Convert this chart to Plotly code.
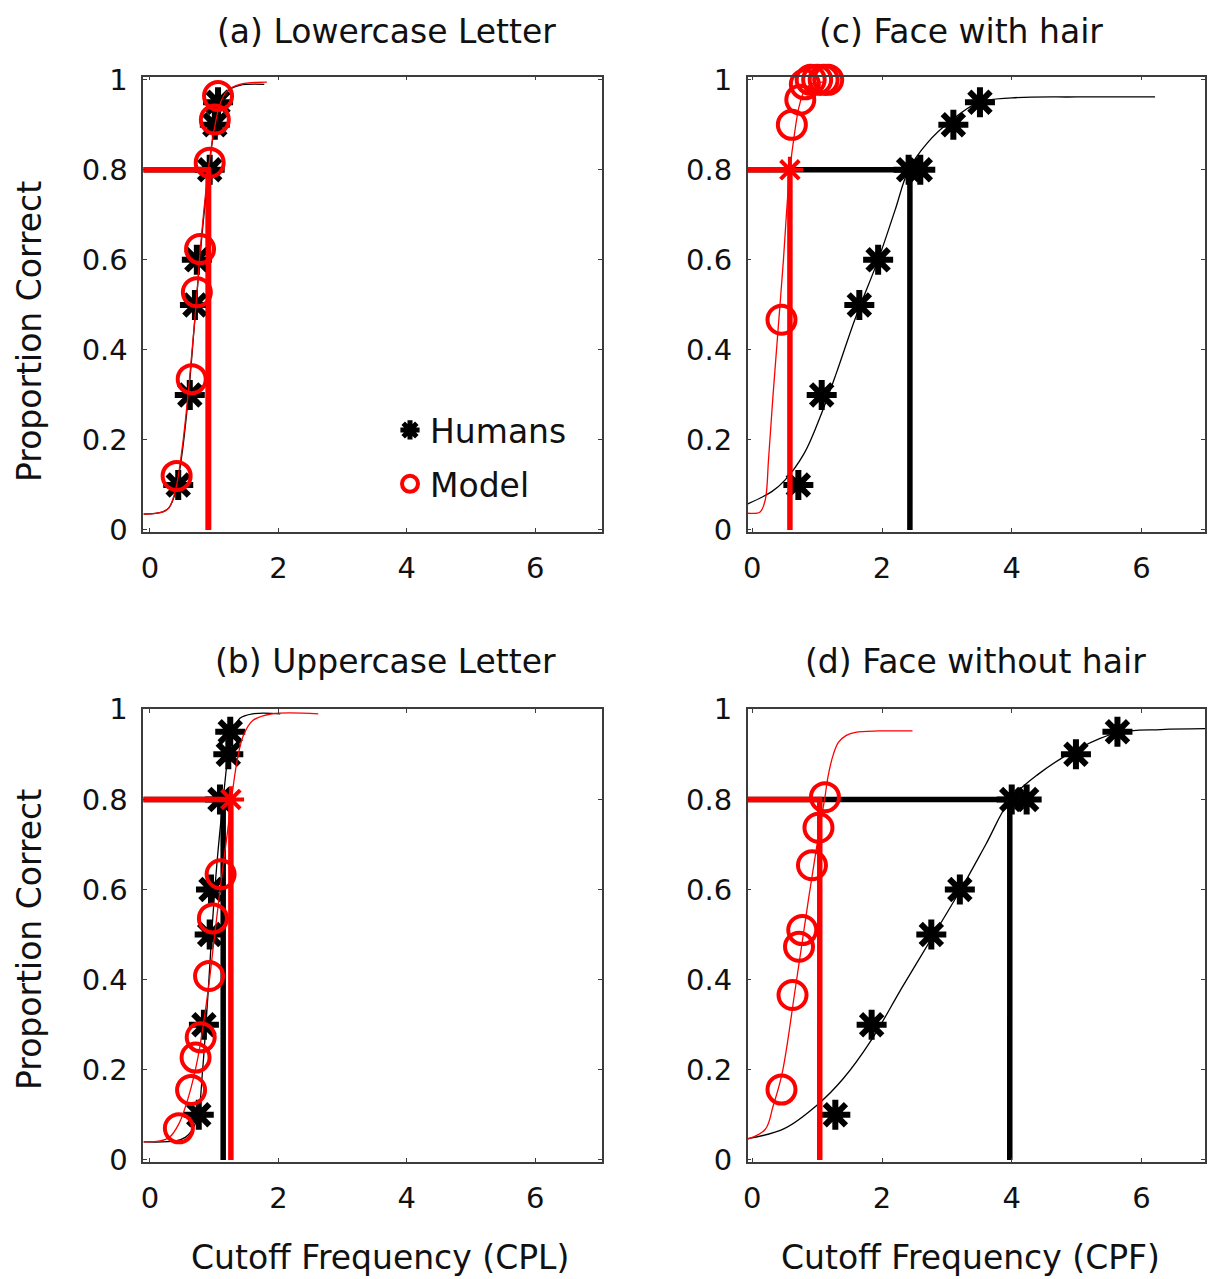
import plotly.graph_objects as go

# ---------------- data ----------------
# (a) Lowercase Letter
a_hum_x = [0.44, 0.62, 0.70, 0.73, 0.93, 1.01, 1.06]
a_hum_y = [0.10, 0.30, 0.50, 0.60, 0.80, 0.90, 0.95]
a_mod_x = [0.415, 0.65, 0.73, 0.78, 0.93, 1.01, 1.06]
a_mod_y = [0.12, 0.335, 0.528, 0.624, 0.816, 0.912, 0.964]
a_hfit_x = [-0.1, 0.2, 0.3, 0.4, 0.5, 0.6, 0.7, 0.8, 0.9, 1.0, 1.1, 1.2, 1.4, 1.78]
a_hfit_y = [0.035, 0.04, 0.05, 0.085, 0.17, 0.30, 0.47, 0.64, 0.78, 0.89, 0.95, 0.975, 0.988, 0.99]
a_mfit_x = [-0.1, 0.2, 0.3, 0.4, 0.5, 0.6, 0.7, 0.8, 0.9, 1.0, 1.1, 1.2, 1.4, 1.82]
a_mfit_y = [0.035, 0.04, 0.05, 0.09, 0.18, 0.31, 0.47, 0.65, 0.79, 0.89, 0.95, 0.975, 0.99, 0.995]

# (b) Uppercase Letter
b_hum_x = [0.76, 0.84, 0.93, 0.95, 1.09, 1.22, 1.25]
b_hum_y = [0.10, 0.30, 0.50, 0.60, 0.80, 0.90, 0.95]
b_mod_x = [0.45, 0.64, 0.71, 0.79, 0.92, 0.98, 1.10]
b_mod_y = [0.07, 0.155, 0.227, 0.272, 0.408, 0.536, 0.634]
b_hfit_x = [-0.1, 0.4, 0.55, 0.65, 0.75, 0.82, 0.9, 0.97, 1.05, 1.14, 1.22, 1.3, 1.4, 1.6, 2.03]
b_hfit_y = [0.04, 0.042, 0.05, 0.065, 0.10, 0.20, 0.36, 0.52, 0.67, 0.80, 0.90, 0.95, 0.98, 0.99, 0.99]
b_mfit_x = [-0.1, 0.15, 0.3, 0.45, 0.6, 0.75, 0.9, 1.0, 1.1, 1.2, 1.27, 1.35, 1.45, 1.6, 1.9, 2.62]
b_mfit_y = [0.04, 0.042, 0.05, 0.08, 0.14, 0.23, 0.37, 0.49, 0.61, 0.72, 0.80, 0.88, 0.94, 0.975, 0.99, 0.99]

# (c) Face with hair
c_hum_x = [0.71, 1.07, 1.65, 1.94, 2.41, 2.59, 3.10, 3.51]
c_hum_y = [0.10, 0.30, 0.50, 0.60, 0.80, 0.80, 0.90, 0.95]
c_mod_x = [0.45, 0.61, 0.74, 0.81, 0.90, 1.00, 1.10, 1.17]
c_mod_y = [0.467, 0.90, 0.956, 0.99, 1.0, 1.0, 1.0, 1.0]
c_hfit_x = [-0.07, 0.3, 0.5, 0.8, 1.07, 1.3, 1.58, 1.94, 2.2, 2.41, 2.7, 3.07, 3.49, 4.0, 5.0, 6.21]
c_hfit_y = [0.058, 0.085, 0.11, 0.17, 0.26, 0.35, 0.467, 0.60, 0.71, 0.80, 0.86, 0.91, 0.95, 0.96, 0.962, 0.962]
c_mfit_x = [-0.07, 0.12, 0.2, 0.25, 0.32, 0.4, 0.48, 0.53, 0.58, 0.65, 0.72, 0.8, 0.9, 1.1]
c_mfit_y = [0.037, 0.04, 0.067, 0.156, 0.30, 0.45, 0.60, 0.71, 0.80, 0.88, 0.94, 0.975, 0.99, 0.995]

# (d) Face without hair
d_hum_x = [1.28, 1.84, 2.76, 3.20, 4.00, 4.23, 4.99, 5.63]
d_hum_y = [0.10, 0.30, 0.50, 0.60, 0.80, 0.80, 0.90, 0.95]
d_mod_x = [0.45, 0.62, 0.72, 0.77, 0.92, 1.02, 1.12]
d_mod_y = [0.156, 0.366, 0.473, 0.51, 0.654, 0.737, 0.805]
d_hfit_x = [-0.07, 0.5, 1.01, 1.4, 1.84, 2.31, 2.77, 3.23, 3.6, 3.98, 4.4, 5.02, 5.63, 6.3, 6.98]
d_hfit_y = [0.047, 0.07, 0.123, 0.18, 0.267, 0.383, 0.493, 0.604, 0.70, 0.80, 0.855, 0.912, 0.948, 0.955, 0.957]
d_mfit_x = [-0.07, 0.2, 0.32, 0.46, 0.66, 0.87, 1.02, 1.12, 1.17, 1.25, 1.33, 1.45, 1.59, 1.95, 2.47]
d_mfit_y = [0.046, 0.068, 0.119, 0.192, 0.377, 0.582, 0.72, 0.805, 0.853, 0.90, 0.927, 0.942, 0.949, 0.952, 0.952]

# 80% thresholds (humans, model)
thr_humans = [0.91, 1.14, 2.43, 3.97]
thr_model = [0.91, 1.26, 0.58, 1.04]
thr_level = 0.8
show_model_star = [False, True, True, False]

titles = ["(a) Lowercase Letter", "(b) Uppercase Letter", "(c) Face with hair", "(d) Face without hair"]
x_titles = ["Cutoff Frequency (CPL)", "Cutoff Frequency (CPF)"]
y_title = "Proportion Correct"
x_ticks = [0, 2, 4, 6]
y_ticks = [0, 0.2, 0.4, 0.6, 0.8, 1]
y_ticklabels = ["0", "0.2", "0.4", "0.6", "0.8", "1"]

panels = [
    (a_hum_x, a_hum_y, a_mod_x, a_mod_y, a_hfit_x, a_hfit_y, a_mfit_x, a_mfit_y),
    (b_hum_x, b_hum_y, b_mod_x, b_mod_y, b_hfit_x, b_hfit_y, b_mfit_x, b_mfit_y),
    (c_hum_x, c_hum_y, c_mod_x, c_mod_y, c_hfit_x, c_hfit_y, c_mfit_x, c_mfit_y),
    (d_hum_x, d_hum_y, d_mod_x, d_mod_y, d_hfit_x, d_hfit_y, d_mfit_x, d_mfit_y),
]

# ---------------- layout geometry ----------------
W, H = 1208, 1279
FONT = "DejaVu Sans"
FS_TXT = 33
FS_TICK = 29
TXT = "#111111"
RED = "#ff0000"
BLACK = "#000000"

# plot-area boxes in pixels: left, right, top, bottom
boxes = [
    (143.3, 601.7, 76.7, 531.7),
    (143.3, 601.7, 709.3, 1161.7),
    (747.7, 1205.0, 76.7, 531.7),
    (747.7, 1205.0, 709.3, 1161.7),
]
xranges = [[-0.104, 7.035], [-0.104, 7.035], [-0.071, 6.98], [-0.071, 6.98]]
yranges = [[-0.004, 1.007], [-0.004, 1.0], [-0.004, 1.007], [-0.004, 1.0]]

fig = go.Figure()

for i, (hx, hy, mx, my, hfx, hfy, mfx, mfy) in enumerate(panels):
    xa = "x" if i == 0 else f"x{i+1}"
    ya = "y" if i == 0 else f"y{i+1}"
    x0 = xranges[i][0]
    # human psychometric fit
    fig.add_trace(go.Scatter(x=hfx, y=hfy, mode="lines", line=dict(color=BLACK, width=1.3, shape="spline"),
                             xaxis=xa, yaxis=ya, showlegend=False, hoverinfo="skip"))
    # human 80% threshold
    fig.add_trace(go.Scatter(x=[x0, thr_humans[i], thr_humans[i]], y=[thr_level, thr_level, 0],
                             mode="lines", line=dict(color=BLACK, width=5.5),
                             xaxis=xa, yaxis=ya, showlegend=False, hoverinfo="skip"))
    # human data
    fig.add_trace(go.Scatter(x=hx, y=hy, mode="markers", name="Humans", legendgroup="h",
                             marker=dict(symbol="asterisk-open", size=25, color=BLACK, line=dict(color=BLACK, width=6)),
                             xaxis=xa, yaxis=ya, showlegend=(i == 0), cliponaxis=False))
    # model psychometric fit
    fig.add_trace(go.Scatter(x=mfx, y=mfy, mode="lines", line=dict(color=RED, width=1.3, shape="spline"),
                             xaxis=xa, yaxis=ya, showlegend=False, hoverinfo="skip"))
    # model 80% threshold
    fig.add_trace(go.Scatter(x=[x0, thr_model[i], thr_model[i]], y=[thr_level, thr_level, 0],
                             mode="lines", line=dict(color=RED, width=5.5),
                             xaxis=xa, yaxis=ya, showlegend=False, hoverinfo="skip"))
    # model data
    fig.add_trace(go.Scatter(x=mx, y=my, mode="markers", name="Model", legendgroup="m",
                             marker=dict(symbol="circle-open", size=28, color=RED, line=dict(color=RED, width=4)),
                             xaxis=xa, yaxis=ya, showlegend=(i == 0), cliponaxis=False))
    if show_model_star[i]:
        fig.add_trace(go.Scatter(x=[thr_model[i]], y=[thr_level], mode="markers",
                                 marker=dict(symbol="asterisk-open", size=22, color=RED, line=dict(color=RED, width=4)),
                                 xaxis=xa, yaxis=ya, showlegend=False, cliponaxis=False))

axis_common = dict(
    automargin=False,
    showgrid=False, zeroline=False, showline=True, linecolor="#3c3c3c", linewidth=1.5,
    mirror="ticks", ticks="inside", ticklen=4, tickcolor="#3c3c3c", tickwidth=1.2,
    tickfont=dict(family=FONT, size=FS_TICK, color=TXT),
)

layout = dict(
    template="none",
    width=W, height=H, margin=dict(l=0, r=0, t=0, b=0, autoexpand=False),
    paper_bgcolor="white", plot_bgcolor="white",
    font=dict(family=FONT, size=FS_TXT, color=TXT),
    showlegend=True,
    legend=dict(x=390 / W, y=1 - 402 / H, xanchor="left", yanchor="top",
                bgcolor="rgba(0,0,0,0)", borderwidth=0, font=dict(family=FONT, size=FS_TXT, color=TXT),
                itemsizing="trace", tracegroupgap=8),
)

for i, (l, r, t, b) in enumerate(boxes):
    xk = "xaxis" if i == 0 else f"xaxis{i+1}"
    yk = "yaxis" if i == 0 else f"yaxis{i+1}"
    layout[xk] = dict(axis_common, domain=[l / W, r / W], range=xranges[i], anchor=("y" if i == 0 else f"y{i+1}"),
                      tickvals=x_ticks, ticktext=[str(v) for v in x_ticks], ticklabelstandoff=10)
    layout[yk] = dict(axis_common, domain=[1 - b / H, 1 - t / H], range=yranges[i], anchor=("x" if i == 0 else f"x{i+1}"),
                      tickvals=y_ticks, ticktext=y_ticklabels, ticklabelstandoff=8)

fig.update_layout(**layout)

annotations = []
title_pos = [(386, 31), (385, 661), (961, 31), (975, 661)]
for txt, (px, py) in zip(titles, title_pos):
    annotations.append(dict(text=txt, x=px / W, y=1 - py / H, xref="paper", yref="paper",
                            xanchor="center", yanchor="middle", showarrow=False,
                            font=dict(family=FONT, size=FS_TXT, color=TXT)))
for py in (332, 940):
    annotations.append(dict(text=y_title, x=29 / W, y=1 - py / H, xref="paper", yref="paper",
                            xanchor="center", yanchor="middle", showarrow=False, textangle=-90,
                            font=dict(family=FONT, size=FS_TXT, color=TXT)))
for txt, px in zip(x_titles, (380, 970)):
    annotations.append(dict(text=txt, x=px / W, y=1 - 1257 / H, xref="paper", yref="paper",
                            xanchor="center", yanchor="middle", showarrow=False,
                            font=dict(family=FONT, size=FS_TXT, color=TXT)))
fig.update_layout(annotations=annotations)

fig.write_html("out.html")
